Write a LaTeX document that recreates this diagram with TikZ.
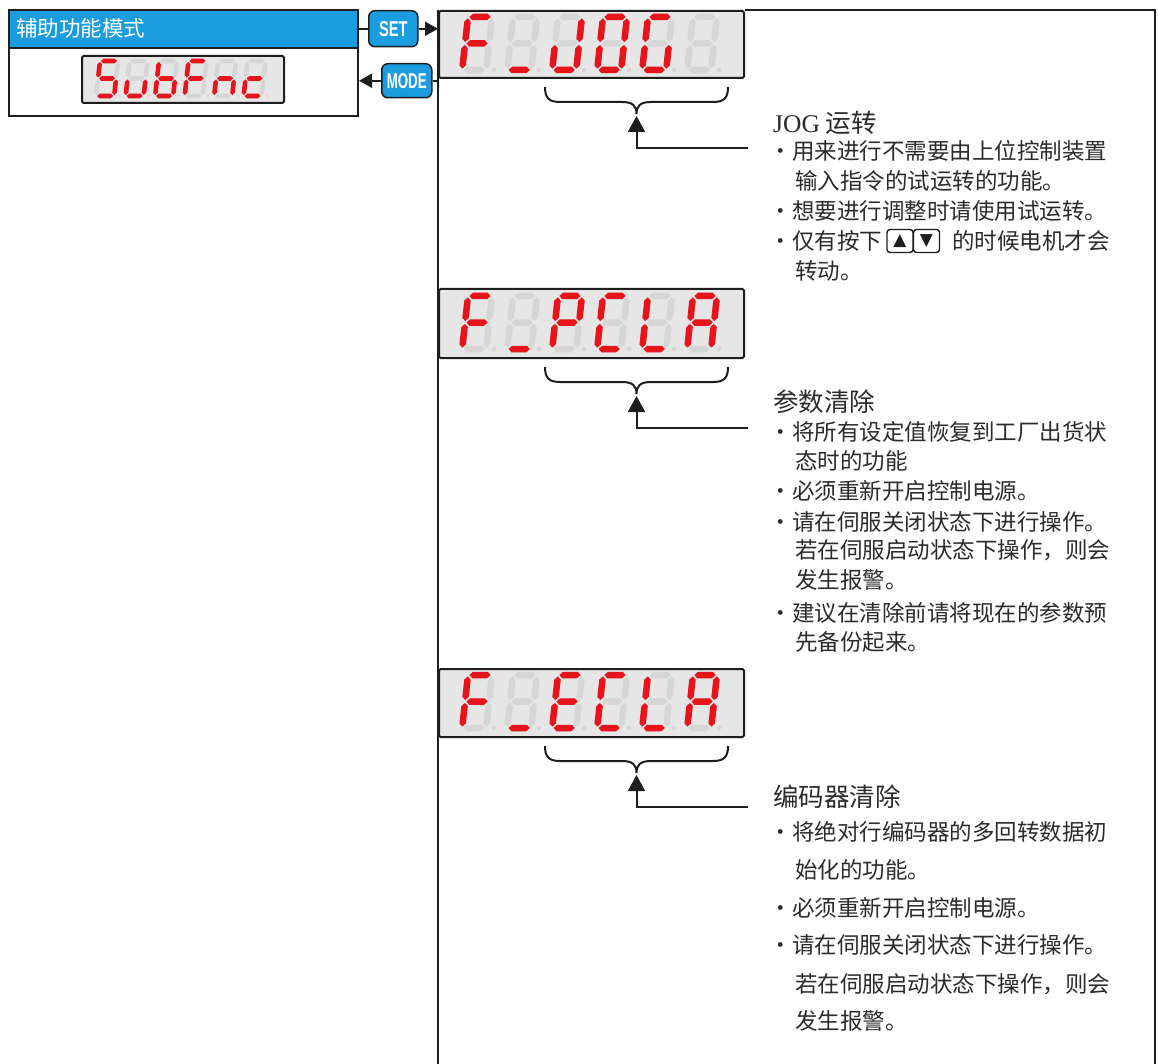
\documentclass[tikz,border=0pt]{standalone}
\usepackage{fontspec}
\usepackage{graphicx}
\setmainfont{Liberation Sans}
\newfontfamily\cjk{Noto Sans CJK SC}
\newfontfamily\latserif{Liberation Serif}
\newfontfamily\btnf{Liberation Sans}
\newfontfamily\symf{DejaVu Sans}
\usetikzlibrary{arrows.meta}
\definecolor{hblue}{HTML}{1A9CDE}
\definecolor{segred}{HTML}{E8141C}
\definecolor{segghost}{HTML}{D6D6D6}
\definecolor{dispbg}{HTML}{E6E6E6}
\definecolor{txt}{HTML}{2B2B2B}
\definecolor{ink}{HTML}{1E1E1E}

\def\dgW{24}\def\dgH{53}\def\dgG{1.4}\def\dgT{6.5}
\newcommand\hseg[3]{\fill[\segcol] (#1,#3) -- (#1+\dgT/2,#3-\dgT/2) -- (#2-\dgT/2,#3-\dgT/2) -- (#2,#3) -- (#2-\dgT/2,#3+\dgT/2) -- (#1+\dgT/2,#3+\dgT/2) -- cycle;}
\newcommand\vseg[3]{\fill[\segcol] (#1,#2) -- (#1+\dgT/2,#2+\dgT/2) -- (#1+\dgT/2,#3-\dgT/2) -- (#1,#3) -- (#1-\dgT/2,#3-\dgT/2) -- (#1-\dgT/2,#2+\dgT/2) -- cycle;}
\def\segA{\hseg{\dgG}{\dgW-\dgG}{0}}
\def\segB{\vseg{\dgW}{\dgG}{\dgH/2-\dgG}}
\def\segC{\vseg{\dgW}{\dgH/2+\dgG}{\dgH-\dgG}}
\def\segD{\hseg{\dgG}{\dgW-\dgG}{\dgH}}
\def\segE{\vseg{0}{\dgH/2+\dgG}{\dgH-\dgG}}
\def\segF{\vseg{0}{\dgG}{\dgH/2-\dgG}}
\def\segG{\hseg{\dgG}{\dgW-\dgG}{\dgH/2}}
\def\segX{}

\newcommand\segdigit[3]{%
  \begin{scope}[shift={(#1,#2)},xslant=0.11]
    \def\segcol{segghost}%
    \foreach \s in {A,B,C,D,E,F,G}{\csname seg\s\endcsname}
    \fill[segghost] (\dgW+1.2*\dgT,\dgH) circle (0.35*\dgT);
    \def\segcol{segred}%
    \foreach \s in {#3}{\csname seg\s\endcsname}
  \end{scope}}

\newcommand\bracearrow[2]{%
  \coordinate (#2l) at ([shift={(107,8)}]#1.south west);
  \coordinate (#2tip) at ([shift={(198.5,37)}]#1.south west);
  \coordinate (#2corner) at ([shift={(198.5,69)}]#1.south west);
  \coordinate (#2end) at ([shift={(310,69)}]#1.south west);
  \begin{scope}[shift={(#2l)}]
    \draw[brace] (0,0) .. controls (0,11) and (4,15) .. (15,15) -- (77,15)
      .. controls (88,15) and (91.5,19) .. (91.5,27)
      .. controls (91.5,19) and (95,15) .. (106,15) -- (168,15)
      .. controls (179,15) and (183,11) .. (183,0);
  \end{scope}
  \draw[conn,-{Triangle[length=16pt,width=17pt]}] (#2end) -- (#2corner) -- (#2tip);}

\tikzset{
  disp/.style={draw=ink, line width=2pt, fill=dispbg, rounded corners=1.5pt, inner sep=0},
  btn/.style={draw=ink, line width=1.5pt, fill=hblue, rounded corners=6pt, text=white,
    font=\btnf\bfseries\fontsize{21.5}{21.5}\selectfont, inner sep=0},
  conn/.style={draw=ink, line width=2pt},
  frameline/.style={draw=ink, line width=2.2pt},
  brace/.style={draw=ink, line width=2pt},
  head/.style={font=\cjk\fontsize{25.5}{25.5}\selectfont, text=txt, anchor=west, inner sep=0},
  body/.style={font=\cjk\fontsize{22.5}{22.5}\selectfont, text=txt, anchor=west, inner sep=0},
  keyb/.style={draw=ink, line width=1.4pt, rounded corners=3pt, minimum width=26pt,
    minimum height=23pt, inner sep=0, font=\symf\fontsize{17}{17}\selectfont, text=ink},
}

\begin{document}
\begin{tikzpicture}[x=1pt,y=-1pt]
\useasboundingbox (0,0) rectangle (1158,1064);
\fill[white] (0,0) rectangle (1158,1064);

% header block
\node[draw=ink, line width=2pt, fill=hblue, minimum width=349pt, minimum height=38pt,
  anchor=north west, inner sep=0] (hdr) at (8,9) {};
\node[font=\cjk\fontsize{21.5}{21.5}\selectfont, text=white, anchor=west, inner sep=0] (hdrt) at (16,28) {辅助功能模式};
\node[draw=ink, line width=2pt, fill=white, minimum width=349pt, minimum height=68pt,
  anchor=north west, inner sep=0] (hdrbox) at (8,47) {};
\node[disp, minimum width=202pt, minimum height=47pt, anchor=north west] (sd) at (81,55) {};
{\def\dgW{18}\def\dgH{35}\def\dgG{1.0}\def\dgT{4.6}
\segdigit{100}{61}{A,F,G,C,D}
\segdigit{129.5}{61}{C,D,E}
\segdigit{159}{61}{C,D,E,F,G}
\segdigit{188.5}{61}{A,E,F,G}
\segdigit{218}{61}{C,E,G}
\segdigit{247.5}{61}{D,E,G}
}

% buttons
\node[btn, minimum width=49pt, minimum height=36pt, anchor=north west] (set) at (368,10) {\scalebox{0.68}[1]{SET}};
\node[btn, minimum width=50pt, minimum height=34pt, anchor=north west] (mode) at (381,63) {\scalebox{0.62}[1]{MODE}};

% displays
\node[disp, minimum width=305pt, minimum height=67pt, anchor=north west] (d1) at (438,10) {};
\node[disp, minimum width=305pt, minimum height=69pt, anchor=north west] (d2) at (438,288) {};
\node[disp, minimum width=305pt, minimum height=68pt, anchor=north west] (d3) at (438,668) {};

\segdigit{468}{17}{A,E,F,G}
\segdigit{513}{17}{D}
\segdigit{558}{17}{B,C,D,E}
\segdigit{603}{17}{A,B,C,D,E,F}
\segdigit{648}{17}{A,C,D,E,F}
\segdigit{693}{17}{X}

\segdigit{468}{296}{A,E,F,G}
\segdigit{513}{296}{D}
\segdigit{558}{296}{A,B,E,F,G}
\segdigit{603}{296}{A,D,E,F}
\segdigit{648}{296}{D,E,F}
\segdigit{693}{296}{A,B,C,E,F,G}

\segdigit{468}{675}{A,E,F,G}
\segdigit{513}{675}{D}
\segdigit{558}{675}{A,D,E,F,G}
\segdigit{603}{675}{A,D,E,F}
\segdigit{648}{675}{D,E,F}
\segdigit{693}{675}{A,B,C,E,F,G}

% frame
\coordinate (botL) at (439,1066);
\coordinate (topR) at (1155,10);
\draw[frameline] (d1.north west) -- (d1.north west |- botL);
\draw[frameline] (d1.north east) -- (topR) -- (topR |- botL);

% connectors
\draw[conn] (set.west -| hdr.east) -- (set.west);
\draw[conn,-{Triangle[length=13pt,width=14pt]}] (set.east) -- (set.east -| d1.west);
\draw[conn] (mode.east) -- (mode.east -| d1.west);
\draw[conn,-{Triangle[length=13pt,width=14pt]}] (mode.west) -- (mode.west -| hdr.east);

\bracearrow{d1}{a}
\bracearrow{d2}{b}
\bracearrow{d3}{c}

% block 1
\node[head] (h1) at (773,123) {{\latserif JOG} 运转};
\node[body] (h1l1) at (769.5,151) {・用来进行不需要由上位控制装置};
\node[body] (h1l2) at (795,181) {输入指令的试运转的功能。};
\node[body] (h1l3) at (769.5,211) {・想要进行调整时请使用试运转。};
\node[body] (h1l4) at (769.5,241) {・仅有按下};
\node[keyb] (k1) at (900,241) {▲};
\node[keyb] (k2) at (926.5,241) {▼};
\node[body] (h1l5) at (952,241) {的时候电机才会};
\node[body] (h1l6) at (795,271) {转动。};

% block 2
\node[head] (h2) at (773,402) {参数清除};
\node[body] (h2l1) at (769.5,432) {・将所有设定值恢复到工厂出货状};
\node[body] (h2l2) at (795,461) {态时的功能};
\node[body] (h2l3) at (769.5,491) {・必须重新开启控制电源。};
\node[body] (h2l4) at (769.5,522) {・请在伺服关闭状态下进行操作。};
\node[body] (h2l5) at (795,550) {若在伺服启动状态下操作，则会};
\node[body] (h2l6) at (795,580) {发生报警。};
\node[body] (h2l7) at (769.5,613) {・建议在清除前请将现在的参数预};
\node[body] (h2l8) at (795,642) {先备份起来。};

% block 3
\node[head] (h3) at (773,797) {编码器清除};
\node[body] (h3l1) at (769.5,832) {・将绝对行编码器的多回转数据初};
\node[body] (h3l2) at (795,870) {始化的功能。};
\node[body] (h3l3) at (769.5,908) {・必须重新开启控制电源。};
\node[body] (h3l4) at (769.5,945) {・请在伺服关闭状态下进行操作。};
\node[body] (h3l5) at (795,984) {若在伺服启动状态下操作，则会};
\node[body] (h3l6) at (795,1021) {发生报警。};
\end{tikzpicture}
\end{document}
